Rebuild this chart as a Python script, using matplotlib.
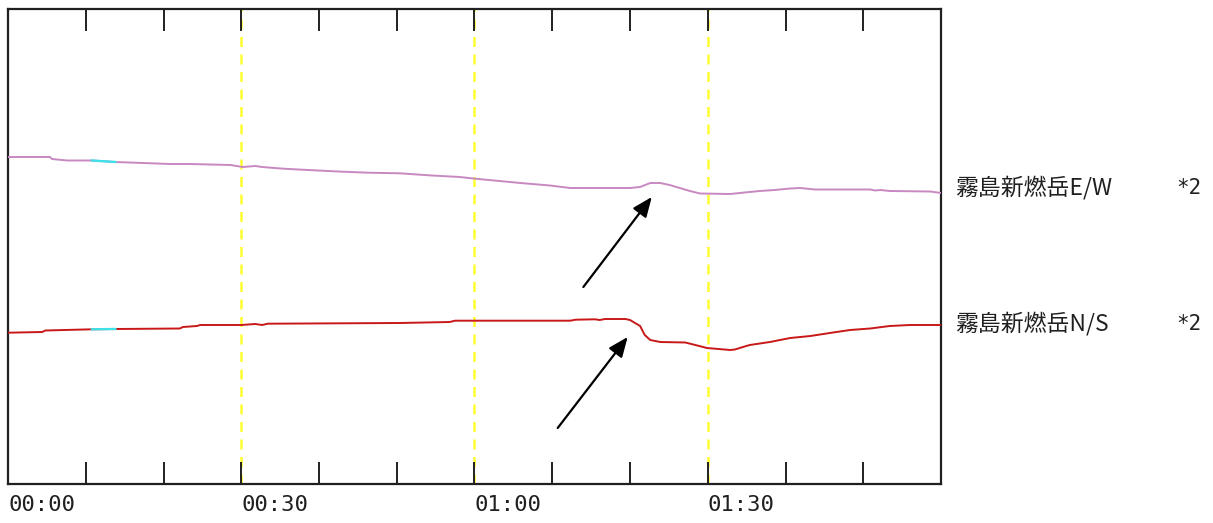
import numpy as np
import matplotlib.pyplot as plt

# ---- data (minutes since 00:00, tilt in arbitrary units) ----
ew_t = [0, 5.4, 5.66, 7.6, 10.8, 13.8, 17.4, 20.8, 23.4, 28.6, 30.2, 31.8, 32.7,
        35.4, 38.6, 42.4, 46.3, 50.4, 54.5, 58.1, 60.1, 65.9, 69.7, 72.3, 80.0,
        81.3, 82.6, 83.9, 85.1, 87.7, 89.0, 92.9, 94.1, 96.7, 98.6, 100.6, 101.9,
        103.8, 110.9, 111.5, 112.2, 113.4, 118.6, 120]
ew_v = [327, 327, 325, 323.5, 323.5, 322, 321, 320, 320, 319, 317, 318, 317,
        315.3, 314, 312.5, 311.3, 310.7, 308.5, 307, 305.3, 301, 298.5, 296, 296,
        297, 301, 301, 299, 293, 290.5, 290, 291, 293, 294, 295.5, 296,
        294.5, 294.5, 293.5, 294, 293, 292.5, 291]

ns_t = [0, 4.4, 4.8, 10.8, 13.8, 22.1, 22.5, 24.3, 24.7, 30.0, 31.8, 32.7, 33.4,
        50.4, 56.8, 57.5, 72.3, 73.0, 75.5, 76.1, 76.8, 79.4, 80.0, 81.3, 81.9,
        82.6, 83.9, 87.1, 88.4, 89.9, 92.9, 93.5, 94.1, 95.4, 98.0, 100.6, 103.2,
        105.7, 108.3, 110.9, 113.4, 116.0, 120]
ns_v = [151.3, 152, 153.5, 154.7, 155, 155.5, 157, 158, 159, 159, 160, 159, 160.3,
        161, 162, 163.3, 163.3, 164.3, 164.7, 164, 165, 165, 164, 158, 149,
        144, 142, 141.5, 139, 136, 134, 134.5, 136, 139, 142, 146, 148,
        151, 154, 155.5, 158, 159, 159]

# short stretch drawn in cyan on both traces
gap_start, gap_end = 10.8, 13.8

labels = ["霧島新燃岳E/W", "霧島新燃岳N/S"]
scale_note = "*2"
tick_minutes = np.arange(0, 121, 10)
label_minutes = [0, 30, 60, 90]
label_texts = ["00:00", "00:30", "01:00", "01:30"]

W, H = 1213, 523
fig = plt.figure(figsize=(W / 100, H / 100), dpi=100)
ax = fig.add_axes([8 / W, (H - 484) / H, 933 / W, 475 / H])
ax.set_xlim(0, 120)
ax.set_ylim(0, 475)

for m in [30, 60, 90]:
    ax.axvline(m, color="#ffff30", lw=1.8, dashes=(4, 3), zorder=1)


def draw_trace(t, v, color):
    t = np.asarray(t)
    v = np.asarray(v)
    ax.plot(t, v, color=color, lw=1.4, zorder=3)
    seg = (t >= gap_start) & (t <= gap_end)
    ax.plot(t[seg], v[seg], color="#40e0e8", lw=1.7, zorder=4)


draw_trace(ew_t, ew_v, "#c888c0")
draw_trace(ns_t, ns_v, "#c81818")

# frame and ticks
for s in ax.spines.values():
    s.set_linewidth(1.6)
    s.set_color("#202020")
ax.set_yticks([])
ax.set_xticks(tick_minutes)
ax.set_xticklabels([])
ax.tick_params(axis="x", direction="in", length=16, width=1.4, top=True,
               bottom=True, color="#202020")

for m, txt in zip(label_minutes, label_texts):
    ax.text(m, -11, txt, ha="left", va="top", fontsize=16,
            family="DejaVu Sans Mono", color="#202020", clip_on=False)

# labels on the right
for lab, yv in zip(labels, [ew_v[-1] + 5, ns_v[-1] + 1]):
    ax.text(121.9, yv, lab, ha="left", va="center", fontsize=16.5,
            family=["Noto Sans CJK JP", "DejaVu Sans"], color="#202020",
            clip_on=False)
    ax.text(150.2, yv, scale_note, ha="left", va="center", fontsize=15,
            family="DejaVu Sans Mono", color="#202020", clip_on=False)

# arrows pointing at the step
arrow_kw = dict(arrowstyle="-|>,head_length=1.2,head_width=0.5", color="black",
                lw=1.6, shrinkA=0, shrinkB=0)
ax.annotate("", xy=(82.8, 287), xytext=(74.0, 197), arrowprops=arrow_kw)
ax.annotate("", xy=(79.7, 147), xytext=(70.7, 56), arrowprops=arrow_kw)

fig.savefig("out.png", dpi=100)
